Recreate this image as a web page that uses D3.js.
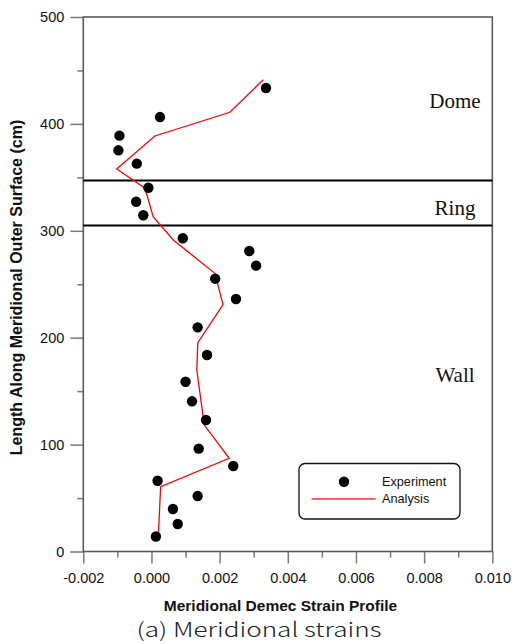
<!DOCTYPE html>
<html>
<head>
<meta charset="utf-8">
<script src="https://cdn.jsdelivr.net/npm/d3@7"></script>
<style>
  html, body { margin: 0; padding: 0; background: #fff; }
  svg { display: block; }
</style>
</head>
<body>
<svg id="chart" width="512" height="644"></svg>
<script>
// Measured meridional strains (Demec gauges) along the outer surface
const expHeight = [433.6, 406.4, 389, 375.3, 362.8, 340.3, 327.2, 314.5, 293, 281.1, 267.4, 255.2, 236.2,
                   209.7, 183.8, 158.8, 140.5, 123, 96.2, 80, 66.2, 51.9, 39.8, 25.7, 14];
const expStrain = [0.00336, 0.00025, -0.00094, -0.00097, -0.00043, -0.00009, -0.00045, -0.00024, 0.00092, 0.00287, 0.00307, 0.00187, 0.00248,
                   0.001355, 0.00163, 0.001, 0.00119, 0.0016, 0.001385, 0.0024, 0.00018, 0.001355, 0.00063, 0.00077, 0.00013];

// Analysis profile
const anaHeight = [14, 60.6, 87.2, 118.3, 169.8, 195.3, 231, 260.2, 291.4, 313.2, 339.8, 357.8, 388.7, 410.9, 441.3];
const anaStrain = [0.0002, 0.00027, 0.00228, 0.00155, 0.00133, 0.00136, 0.0021, 0.00186, 0.00064, 0.00005, -0.00019, -0.00102, 0.0001, 0.0023, 0.00328];

// Structural zone boundaries and labels
const zoneBounds = [347, 305];
const zoneNames = ["Dome", "Ring", "Wall"];
const zoneLabelHeight = [414.6, 314.8, 158.8];

// Axis ticks
const xMajor = [-0.002, 0, 0.002, 0.004, 0.006, 0.008, 0.010];
const xMinor = [-0.001, 0.001, 0.003, 0.005, 0.007, 0.009];
const yMajor = [0, 100, 200, 300, 400, 500];
const yMinor = [50, 150, 250, 350, 450];

const legendNames = ["Experiment", "Analysis"];

const svg = d3.select("#chart");
const L = 83.3, R = 492.3, T = 17, B = 551.5;

const x = d3.scaleLinear().domain([-0.002, 0.010]).range([L, R]);
const y = d3.scaleLinear().domain([0, 500]).range([B, T]);

const axisColor = "#5a5a5a";
const tickColor = "#7a7a7a";

// minor ticks
svg.append("g")
  .attr("transform", `translate(${L},0)`)
  .call(d3.axisLeft(y).tickValues(yMinor).tickSize(6).tickFormat(""))
  .call(g => g.select(".domain").remove())
  .call(g => g.selectAll("line").attr("stroke", tickColor).attr("stroke-width", 1.5));
svg.append("g")
  .attr("transform", `translate(0,${B})`)
  .call(d3.axisBottom(x).tickValues(xMinor).tickSize(6).tickFormat(""))
  .call(g => g.select(".domain").remove())
  .call(g => g.selectAll("line").attr("stroke", tickColor).attr("stroke-width", 1.5));

// major ticks + labels
svg.append("g")
  .attr("transform", `translate(${L},0)`)
  .call(d3.axisLeft(y).tickValues(yMajor).tickSize(13).tickPadding(6).tickFormat(d3.format("d")))
  .call(g => g.select(".domain").remove())
  .call(g => g.selectAll("line").attr("stroke", tickColor).attr("stroke-width", 1.5))
  .call(g => g.selectAll("text").attr("font-family", "Liberation Sans, Arial, sans-serif")
    .attr("font-size", "14.5px").attr("fill", "#111"));
svg.append("g")
  .attr("transform", `translate(0,${B})`)
  .call(d3.axisBottom(x).tickValues(xMajor).tickSize(12).tickPadding(9).tickFormat(d => d.toFixed(3)))
  .call(g => g.select(".domain").remove())
  .call(g => g.selectAll("line").attr("stroke", tickColor).attr("stroke-width", 1.5))
  .call(g => g.selectAll("text").attr("font-family", "Liberation Sans, Arial, sans-serif")
    .attr("font-size", "14.5px").attr("fill", "#111"));

// frame
svg.append("rect")
  .attr("x", L).attr("y", T).attr("width", R - L).attr("height", B - T)
  .attr("fill", "none").attr("stroke", axisColor).attr("stroke-width", 1.6);

// zone boundaries
svg.append("g").selectAll("line").data(zoneBounds).join("line")
  .attr("x1", L).attr("x2", R)
  .attr("y1", d => y(d)).attr("y2", d => y(d))
  .attr("stroke", "#000").attr("stroke-width", 2);

svg.append("g").selectAll("text").data(zoneNames).join("text")
  .attr("x", 455).attr("y", (d, i) => y(zoneLabelHeight[i]))
  .attr("text-anchor", "middle")
  .attr("font-family", "Liberation Serif, Times New Roman, serif")
  .attr("font-size", "21px").attr("fill", "#111")
  .text(d => d);

// analysis line
const line = d3.line().x(d => x(d[1])).y(d => y(d[0]));
svg.append("path")
  .datum(anaHeight.map((h, i) => [h, anaStrain[i]]))
  .attr("d", line)
  .attr("fill", "none").attr("stroke", "#ff0000").attr("stroke-width", 1.3);

// experiment points
svg.append("g").selectAll("circle").data(expHeight.map((h, i) => [h, expStrain[i]])).join("circle")
  .attr("cx", d => x(d[1])).attr("cy", d => y(d[0]))
  .attr("r", 5.2).attr("fill", "#000");

// legend
const lg = svg.append("g");
lg.append("rect").attr("x", 299).attr("y", 463.5).attr("width", 161).attr("height", 55.5)
  .attr("rx", 6).attr("fill", "#fff").attr("stroke", "#111").attr("stroke-width", 1.3);
lg.append("circle").attr("cx", 344).attr("cy", 481.7).attr("r", 5.2).attr("fill", "#000");
lg.append("line").attr("x1", 311.7).attr("x2", 375.7).attr("y1", 499).attr("y2", 499)
  .attr("stroke", "#ff3030").attr("stroke-width", 1.3);
lg.selectAll("text").data(legendNames).join("text")
  .attr("x", 382).attr("y", (d, i) => 486 + i * 16.5)
  .attr("font-family", "Liberation Sans, Arial, sans-serif")
  .attr("font-size", "12.7px").attr("fill", "#111")
  .text(d => d);

// axis titles
svg.append("text")
  .attr("x", 280.5).attr("y", 611)
  .attr("text-anchor", "middle")
  .attr("font-family", "Liberation Sans, Arial, sans-serif")
  .attr("font-weight", "bold").attr("font-size", "15.5px").attr("fill", "#111")
  .text("Meridional Demec Strain Profile");

svg.append("text")
  .attr("transform", "translate(21.5,287.5) rotate(-90)")
  .attr("text-anchor", "middle")
  .attr("font-family", "Liberation Sans, Arial, sans-serif")
  .attr("font-weight", "bold").attr("font-size", "16px").attr("fill", "#111")
  .text("Length Along Meridional Outer Surface (cm)");

// caption
svg.append("text")
  .attr("x", 259).attr("y", 636.5)
  .attr("text-anchor", "middle")
  .attr("font-family", "Noto Sans CJK KR, Noto Sans, sans-serif")
  .attr("font-weight", 300)
  .attr("font-size", "20px").attr("fill", "#222")
  .attr("textLength", 245).attr("lengthAdjust", "spacingAndGlyphs")
  .text("(a) Meridional strains");
</script>
</body>
</html>
